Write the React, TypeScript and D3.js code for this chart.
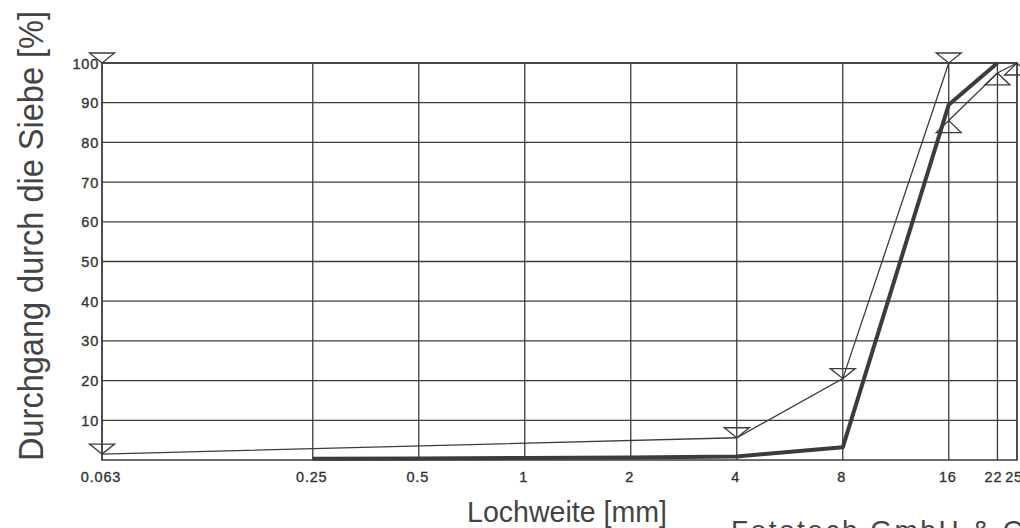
import { scaleLog, scaleLinear, line as d3_line } from "d3";

// sieve sizes shown on the x axis (mm)
const sieveTicks = [0.063, 0.25, 0.5, 1, 2, 4, 8, 16, 22, 25];
const sieveLabels = ["0.063", "0.25", "0.5", "1", "2", "4", "8", "16", "22", "25"];
const percentTicks = [10, 20, 30, 40, 50, 60, 70, 80, 90, 100];

// measured grading curve (thick)
const measuredSizes = [0.25, 0.5, 1, 2, 4, 8, 16, 22];
const measuredPass = [0.3, 0.4, 0.5, 0.6, 0.9, 3.2, 89.5, 100];

// upper limit curve (▽)
const upperSizes = [0.063, 4, 8, 16];
const upperPass = [1.5, 5.6, 20.5, 100];

// lower limit curve (△)
const lowerSizes = [16, 22, 25];
const lowerPass = [85.5, 97.5, 100];

// markers
const downMarkSizes = [0.063, 0.063, 4, 8, 16];
const downMarkPass = [100, 1.5, 5.6, 20.5, 100];
const upMarkSizes = [16, 22, 25];
const upMarkPass = [85.5, 97.5, 100];

const W = 1020;
const H = 528;
const m = { left: 102, right: 1017, top: 63, bottom: 460 };

const ink = "#3c3c3c";
const font = "'Liberation Sans', Arial, sans-serif";

export default function App() {
  const x = scaleLog().domain([0.063, 25]).range([m.left, m.right]);
  const y = scaleLinear().domain([0, 100]).range([m.bottom, m.top]);

  const toPts = (xs: number[], ys: number[]) => xs.map((v, i) => [v, ys[i]] as [number, number]);
  const line = d3_line<[number, number]>()
    .x((d) => x(d[0]))
    .y((d) => y(d[1]));

  const tickText = {
    fontFamily: font,
    fontSize: 14.5,
    letterSpacing: 0.8,
    fill: "#333",
    stroke: "#333",
    strokeWidth: 0.35,
  };

  return (
    <svg
      width={W}
      height={H}
      style={{ position: "absolute", left: 0, top: 0, display: "block", background: "#fff" }}
    >
      {/* grid */}
      {percentTicks.map((t) => (
        <line key={"h" + t} x1={m.left} x2={m.right} y1={y(t)} y2={y(t)} stroke={ink} strokeWidth={1.3} />
      ))}
      {sieveTicks.map((t) => (
        <line key={"v" + t} x1={x(t)} x2={x(t)} y1={m.top} y2={m.bottom} stroke={ink} strokeWidth={1.3} />
      ))}
      <rect
        x={m.left}
        y={m.top}
        width={m.right - m.left}
        height={m.bottom - m.top}
        fill="none"
        stroke={ink}
        strokeWidth={1.5}
      />

      {/* y tick labels */}
      {percentTicks.map((t) => (
        <text key={"yl" + t} x={99} y={y(t) + 5.5} textAnchor="end" {...tickText}>
          {t}
        </text>
      ))}

      {/* x tick labels */}
      {sieveTicks.map((t, i) => (
        <text
          key={"xl" + t}
          x={x(t) - (t === 25 ? 3 : t === 22 ? 4 : 1)}
          y={482}
          textAnchor="middle"
          {...tickText}
        >
          {sieveLabels[i]}
        </text>
      ))}

      {/* curves */}
      <path d={line(toPts(upperSizes, upperPass)) ?? ""} fill="none" stroke={ink} strokeWidth={1.3} />
      <path d={line(toPts(lowerSizes, lowerPass)) ?? ""} fill="none" stroke={ink} strokeWidth={1.3} />
      <path
        d={line(toPts(measuredSizes, measuredPass)) ?? ""}
        fill="none"
        stroke={ink}
        strokeWidth={4}
        strokeLinejoin="round"
      />

      {/* markers */}
      {toPts(downMarkSizes, downMarkPass).map(([s, p], i) => (
        <path
          key={"dm" + i}
          d={`M${x(s)},${y(p)} L${x(s) - 12.5},${y(p) - 10} L${x(s) + 12.5},${y(p) - 10} Z`}
          fill="none"
          stroke={ink}
          strokeWidth={1.3}
        />
      ))}
      {toPts(upMarkSizes, upMarkPass).map(([s, p], i) => (
        <path
          key={"um" + i}
          d={`M${x(s)},${y(p)} L${x(s) - 12.5},${y(p) + 12} L${x(s) + 12.5},${y(p) + 12} Z`}
          fill="none"
          stroke={ink}
          strokeWidth={1.3}
        />
      ))}

      {/* axis titles */}
      <text
        transform={`translate(43,236) rotate(-90)`}
        textAnchor="middle"
        fontFamily={font}
        fontSize={35}
        fill="#444"
        textLength={450}
        lengthAdjust="spacingAndGlyphs"
      >
        Durchgang durch die Siebe [%]
      </text>
      <text
        x={567}
        y={522}
        textAnchor="middle"
        fontFamily={font}
        fontSize={29}
        fill="#444"
        textLength={200}
        lengthAdjust="spacingAndGlyphs"
      >
        Lochweite [mm]
      </text>
      <text x={731} y={540} fontFamily={font} fontSize={28} letterSpacing={2.5} fill="#444">
        Fototech GmbH &amp; Co. KG
      </text>
    </svg>
  );
}
